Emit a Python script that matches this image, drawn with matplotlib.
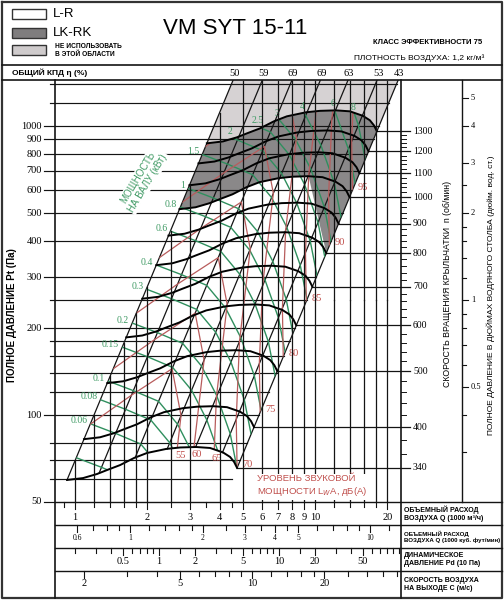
import numpy as np
import matplotlib
matplotlib.use('Agg')
import matplotlib.pyplot as plt
import matplotlib.transforms as mtransforms
from matplotlib.patches import Polygon, Rectangle
from matplotlib.lines import Line2D

W, H = 504, 600

# fan curve at the lowest speed (Q in 1000 m3/h, Pt in Pa)
base_rpm = 340
base_q = [0.926, 1.080, 1.235, 1.359, 1.540, 1.761, 1.995, 2.394, 2.738, 3.193, 3.652, 4.136, 4.424, 4.598, 4.732]
base_p = [59.6, 60.5, 62.5, 64.5, 67.1, 71.0, 73.9, 76.3, 77.2, 77.5, 76.9, 74.2, 71.6, 68.8, 65.6]
rpm_values = [340, 400, 500, 600, 700, 800, 900, 1000, 1100, 1200, 1300]
rpm_minor = list(range(340, 1301, 20))

# constant efficiency lines: where they start on the 340 rpm curve
eff_q = [0.926, 1.26, 1.78, 2.42, 3.18, 4.11, 4.732]
eff_p = [59.6, 63.0, 71.2, 76.3, 77.5, 74.1, 65.6]
eff_pct = [50, 59, 69, 69, 63, 53, 43]
# sound power at 340 rpm on the same points, dB(A)
sound_340 = [50, 48, 47, 52, 60.5, 67, 70]
sound_db_per_decade = 52
sound_levels = [55, 60, 65, 70, 75, 80, 85, 90, 95]

power_kw = [0.04, 0.06, 0.08, 0.1, 0.15, 0.2, 0.3, 0.4, 0.6, 0.8, 1, 1.5, 2, 2.5, 3, 4, 6, 8]
power_unlabeled = [0.04]

# LK-RK zone
lkrk_low_rpm = 1000
lkrk_corner_rpm = 800
lkrk_cut_q = 3.2

# grids and scales
q_grid = [1, 1.2, 1.4, 1.6, 1.8, 2, 2.5, 3, 4, 5, 6, 7, 8, 9, 10, 12, 14, 16, 18, 20]
p_grid = [60, 70, 80, 100, 120, 140, 160, 180, 200, 250, 300, 400, 500, 600, 700, 800, 900, 1000, 1200, 1400]
p_labels = [50, 100, 200, 300, 400, 500, 600, 700, 800, 900, 1000]
inch_ticks = [0.3, 0.4, 0.5, 0.6, 0.7, 0.8, 0.9, 1, 1.2, 1.4, 1.6, 1.8, 2, 2.5, 3, 4, 5]
inch_labels = [0.5, 1, 2, 3, 4, 5]
pa_per_inch = 249.1

q_ticks = [0.9, 1, 1.2, 1.4, 1.6, 1.8, 2, 2.5, 3, 3.5, 4, 4.5, 5, 6, 7, 8, 9, 10, 12, 14, 16, 18, 20]
q_labels = [1, 2, 3, 4, 5, 6, 7, 8, 9, 10, 20]
cfm_ticks = [0.6, 0.7, 0.8, 0.9, 1, 1.2, 1.4, 1.6, 1.8, 2, 2.5, 3, 3.5, 4, 4.5, 5, 6, 7, 8, 9, 10, 12]
cfm_labels = [0.6, 1, 2, 3, 4, 5, 10]
pd_ticks = [0.2, 0.3, 0.4, 0.5, 0.6, 0.7, 0.8, 0.9, 1, 1.5, 2, 3, 4, 5, 6, 7, 8, 9, 10, 15, 20,
            30, 40, 50, 60, 70, 80, 90, 100]
pd_labels = [0.5, 1, 2, 5, 10, 20, 50]
c_ticks = [2, 3, 4, 5, 6, 7, 8, 9, 10, 12, 14, 16, 18, 20, 25, 30, 35, 40]
c_labels = [2, 5, 10, 20]
outlet_area = 0.152   # m2
air_density = 1.2
m3h_per_cfm = 1.699

INK = '#141414'
GREEN = '#2f8f5e'
GREEN_TXT = '#3f9a64'
RED = '#b85c5c'
RED_TXT = '#c0504d'
LIGHT = '#d6d2d3'
DARK = '#8a8889'
SERIF = ['Liberation Serif', 'DejaVu Serif']

plt.rcParams['font.family'] = ['Liberation Sans', 'DejaVu Sans']

# plot area in pixels
X0, X1, Y0, Y1 = 55, 401, 80, 502

fig = plt.figure(figsize=(W / 100, H / 100), dpi=100)
ax = fig.add_axes([X0 / W, 1 - Y1 / H, (X1 - X0) / W, (Y1 - Y0) / H])
ax.set_xscale('log')
ax.set_yscale('log')
ax.set_xlim(0.825, 22.8)
ax.set_ylim(50, 1443)
ax.set_autoscale_on(False)
ax.set_axis_off()
q_min, q_max = ax.get_xlim()
p_bot, p_top = ax.get_ylim()

# pixel helpers (x right, y down from the top-left corner)
pix = mtransforms.Affine2D().scale(1 / W, -1 / H).translate(0, 1) + fig.transFigure
q_pix = mtransforms.blended_transform_factory(ax.transData, pix)
pix_p = mtransforms.blended_transform_factory(pix, ax.transData)


def pline(xs, ys, tr=pix, **kw):
    kw.setdefault('color', INK)
    kw.setdefault('lw', 0.8)
    ax.plot(xs, ys, transform=tr, clip_on=False, **kw)


def ptext(x, y, s, **kw):
    fig.text(x / W, 1 - y / H, s, **kw)


def at_speed(q, p, n):
    r = n / base_rpm
    return np.asarray(q, float) * r, np.asarray(p, float) * r ** 2


eq = np.array(eff_q)
ep = np.array(eff_p)
k_left = ep[0] / eq[0] ** 2
k_right = ep[-1] / eq[-1] ** 2
lam_max = np.log10(rpm_values[-1] / base_rpm)

q_lo, p_lo = at_speed(base_q, base_p, rpm_values[0])
q_hi, p_hi = at_speed(base_q, base_p, rpm_values[-1])

# working area, used to clip the power and sound lines
work = Polygon(np.column_stack([np.r_[q_lo, q_hi[::-1]], np.r_[p_lo, p_hi[::-1]]]),
               closed=True, transform=ax.transData)

# "do not use" zone above the top speed
light = np.column_stack([np.r_[q_hi, np.sqrt(p_top / k_right), np.sqrt(p_top / k_left)],
                         np.r_[p_hi, p_top, p_top]])
ax.add_patch(Polygon(light, closed=True, facecolor=LIGHT, edgecolor='none', zorder=1))

# LK-RK zone
q_a, p_a = at_speed(base_q, base_p, lkrk_low_rpm)
keep = np.asarray(base_q) <= lkrk_cut_q
q_c, p_c = at_speed(base_q[-1:], base_p[-1:], lkrk_corner_rpm)
dark = np.column_stack([np.r_[q_hi, q_c, q_a[keep][::-1]], np.r_[p_hi, p_c, p_a[keep][::-1]]])
ax.add_patch(Polygon(dark, closed=True, facecolor=DARK, edgecolor='none', zorder=1))

# pressure grid and left ticks
for p in p_grid:
    ax.plot([q_min, np.sqrt(p / k_right)], [p, p], color=INK, lw=0.85, zorder=2)
for p in p_grid + [50]:
    x0 = 44 if p in p_labels else 50
    pline([x0, X0], [p, p], tr=pix_p, lw=0.85)
for p in p_labels:
    ax.text(42, p, str(p), transform=pix_p, ha='right', va='center', family=SERIF, fontsize=7.5)

# flow grid, cut by the left efficiency line; drawn on the figure in two pieces
y_mid = 300
for qg in q_grid:
    top = min(p_top, k_left * qg ** 2)
    y_top = Y1 - (Y1 - Y0) * np.log(top / p_bot) / np.log(p_top / p_bot)
    y_top = max(y_top, Y0 + 0.5)
    pieces = [(Y1 - 0.5, y_top)] if y_top > y_mid else [(Y1 - 0.5, y_mid), (y_mid, y_top)]
    for ya, yb in pieces:
        fig.add_artist(Line2D([qg, qg], [ya, yb], transform=q_pix, color=INK, lw=0.9,
                              zorder=1))

# efficiency lines
for qe, pe, e in zip(eq, ep, eff_pct):
    qt = np.sqrt(p_top / (pe / qe ** 2))
    ax.plot([qe, qt], [pe, p_top], color=INK, lw=0.9, zorder=2.5)
    ax.text(qt * 1.01, 73, str(e), transform=q_pix, ha='center', va='center',
            family=SERIF, fontsize=7.5)

# shaft power lines
pw0 = (eq / 3.6) * ep / (np.array(eff_pct) / 100) / 1000
for pw in power_kw:
    lam = np.log10(pw / pw0) / 3
    q = eq * 10 ** lam
    p = ep * 10 ** (2 * lam)
    ln, = ax.plot(q, p, color=GREEN, lw=1.0, zorder=3)
    ln.set_clip_path(work)
    if pw in power_unlabeled:
        continue
    txt = f'{pw:g}'
    if 0 <= lam[0] <= lam_max:
        tr = mtransforms.offset_copy(ax.transData, fig=fig, x=-3, y=3, units='dots')
        ax.text(q[0], p[0], txt, transform=tr, ha='right', va='center', color=GREEN_TXT,
                family=SERIF, fontsize=7, zorder=6)
    else:
        i = np.where((lam[:-1] > lam_max) & (lam[1:] <= lam_max))[0][0]
        t = (lam[i] - lam_max) / (lam[i] - lam[i + 1])
        qx = 10 ** ((1 - t) * np.log10(q[i]) + t * np.log10(q[i + 1]))
        px = 10 ** ((1 - t) * np.log10(p[i]) + t * np.log10(p[i + 1]))
        tr = mtransforms.offset_copy(ax.transData, fig=fig, x=-2, y=2, units='dots')
        ax.text(qx, px, txt, transform=tr, ha='center', va='bottom', color=GREEN_TXT,
                family=SERIF, fontsize=7, zorder=6)

# sound power lines
s0 = np.array(sound_340, float)
for lev in sound_levels:
    lam = (lev - s0) / sound_db_per_decade
    q = eq * 10 ** lam
    p = ep * 10 ** (2 * lam)
    ln, = ax.plot(q, p, color=RED, lw=0.9, zorder=3)
    ln.set_clip_path(work)
    if 0 <= lam[-1] <= lam_max:
        tr = mtransforms.offset_copy(ax.transData, fig=fig, x=5, y=3, units='dots')
        ax.text(q[-1], p[-1], str(lev), transform=tr, ha='left', va='center', color=RED_TXT,
                family=SERIF, fontsize=7.5, zorder=6)
    else:
        i = np.where((lam[:-1] >= 0) & (lam[1:] < 0))[0][0]
        t = lam[i] / (lam[i] - lam[i + 1])
        qx = 10 ** ((1 - t) * np.log10(q[i]) + t * np.log10(q[i + 1]))
        px = 10 ** ((1 - t) * np.log10(p[i]) + t * np.log10(p[i + 1]))
        tr = mtransforms.offset_copy(ax.transData, fig=fig, x=3, y=-3, units='dots')
        ax.text(qx, px, str(lev), transform=tr, ha='center', va='top', color=RED_TXT,
                family=SERIF, fontsize=7.5, zorder=6)

# fan curves and speed lines to the rpm scale
for n in rpm_values:
    qc, pc = at_speed(base_q, base_p, n)
    ax.plot(qc, pc, color='black', lw=1.4, zorder=4)
    ax.plot([qc[-1], q_max], [pc[-1], pc[-1]], color=INK, lw=0.9, zorder=2)
    pline([X1, 410], [pc[-1], pc[-1]], tr=pix_p, lw=0.9)
    ax.text(413, pc[-1], str(n), transform=pix_p, ha='left', va='center', family=SERIF, fontsize=7)
for n in rpm_minor:
    if n in rpm_values:
        continue
    pm = base_p[-1] * (n / base_rpm) ** 2
    pline([X1, 406], [pm, pm], tr=pix_p, lw=0.7)

# inch of water scale
pline([462, 462], [Y0, Y1], lw=1.0)
for v in inch_ticks:
    pline([462, 468 if v in inch_labels else 466], [v * pa_per_inch] * 2, tr=pix_p, lw=0.8)
for v in inch_labels:
    ax.text(471, v * pa_per_inch, f'{v:g}', transform=pix_p, ha='left', va='center',
            family=SERIF, fontsize=6)

# frame
pline([2, 502, 502, 2, 2], [2, 2, 598, 598, 2], lw=1.6, color='#333333')
pline([2, 502], [65, 65], lw=1.2)
pline([2, 502], [Y0, Y0], lw=1.2)
pline([X0, X0], [Y0, 598], lw=1.2)
pline([X1, X1], [Y0, 598], lw=1.2)
pline([X0, 502], [Y1, Y1], lw=1.0)
for y in [525, 548, 571]:
    pline([X0, 502], [y, y], lw=1.0)


# bottom scales
def scale_row(y_top, ticks, labels, to_q, y_lab, size):
    for v in ticks:
        qv = to_q(v)
        pline([qv, qv], [y_top, y_top + (7 if v in labels else 4.5)], tr=q_pix, lw=0.8)
    for v in labels:
        ax.text(to_q(v), y_lab, f'{v:g}', transform=q_pix, ha='center', va='center',
                family=SERIF, fontsize=size)


scale_row(Y1, q_ticks, q_labels, lambda v: v, 517, 7.5)
scale_row(525, cfm_ticks, cfm_labels, lambda v: v * m3h_per_cfm, 538, 5.5)
scale_row(548, pd_ticks, pd_labels,
          lambda v: np.sqrt(2 * v * 10 / air_density) * outlet_area * 3.6, 561, 7.5)
scale_row(571, c_ticks, c_labels, lambda v: v * outlet_area * 3.6, 584, 7.5)

row_names = ['ОБЪЕМНЫЙ РАСХОД\nВОЗДУХА Q (1000 м³/ч)',
             'ОБЪЕМНЫЙ РАСХОД\nВОЗДУХА Q (1000 куб. фут/мин)',
             'ДИНАМИЧЕСКОЕ\nДАВЛЕНИЕ Pd (10 Па)',
             'СКОРОСТЬ ВОЗДУХА\nНА ВЫХОДЕ C (м/с)']
row_sizes = [5.0, 4.4, 5.0, 5.0]
for y, s, fs in zip([513.5, 536.5, 559.5, 584], row_names, row_sizes):
    ptext(404, y, s, ha='left', va='center', fontsize=fs, weight='bold', linespacing=1.2)

# header
for y, fc in [(9, 'white'), (28, '#7f7d7e'), (45, '#cfcbcc')]:
    fig.add_artist(Rectangle((12, y), 34, 10, transform=pix, facecolor=fc,
                             edgecolor='#333333', lw=1.0))
ptext(53, 14, 'L-R', ha='left', va='center', fontsize=9.5)
ptext(53, 33, 'LK-RK', ha='left', va='center', fontsize=9.5)
ptext(55, 50, 'НЕ ИСПОЛЬЗОВАТЬ\nВ ЭТОЙ ОБЛАСТИ', ha='left', va='center', fontsize=4.8,
      weight='bold', linespacing=1.2)
ptext(235, 28, 'VM SYT 15-11', ha='center', va='center', fontsize=16)
ptext(482, 42, 'КЛАСС ЭФФЕКТИВНОСТИ 75', ha='right', va='center', fontsize=5.5, weight='bold')
ptext(484, 58, 'ПЛОТНОСТЬ ВОЗДУХА: 1,2 кг/м³', ha='right', va='center', fontsize=6)
ptext(12, 73, 'ОБЩИЙ КПД η (%)', ha='left', va='center', fontsize=6, weight='bold')

# axis titles
ptext(12, 315, 'ПОЛНОЕ ДАВЛЕНИЕ Pt (Па)', rotation=90, ha='center', va='center',
      fontsize=7, weight='bold')
ptext(447, 284, 'СКОРОСТЬ ВРАЩЕНИЯ КРЫЛЬЧАТКИ  n (об/мин)', rotation=90, ha='center',
      va='center', fontsize=6.3)
ptext(491, 295, 'ПОЛНОЕ ДАВЛЕНИЕ В ДЮЙМАХ ВОДЯНОГО СТОЛБА (дюйм. вод. ст.)', rotation=90,
      ha='center', va='center', fontsize=6)

ptext(143, 180, 'МОЩНОСТЬ\nНА ВАЛУ (кВт)', rotation=59, rotation_mode='anchor', ha='center',
      va='center', fontsize=7, color=GREEN_TXT, linespacing=1.1,
      bbox=dict(facecolor='white', edgecolor='none', pad=1.0))
ptext(257, 486, 'УРОВЕНЬ ЗВУКОВОЙ\nМОЩНОСТИ L$_{W}$A, дБ(A)', ha='left', va='center',
      fontsize=6.8, color=RED_TXT, linespacing=1.3,
      bbox=dict(facecolor='white', edgecolor='none', pad=1.5))

fig.savefig('out.png', dpi=100)
plt.close(fig)
